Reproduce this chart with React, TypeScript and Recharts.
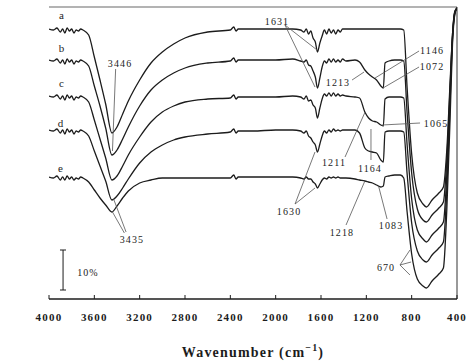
import React from 'react';
import { LineChart, Line, XAxis, YAxis, ReferenceLine, ReferenceDot } from 'recharts';

// Wavenumber grid (cm^-1)
const wavenumbers = [4000,3960,3930,3900,3880,3860,3840,3820,3800,3780,3760,3740,3720,3700,3650,3600,3550,3500,3445,3400,3350,3300,3200,3100,3000,2900,2800,2600,2400,2370,2350,2330,2200,2000,1850,1780,1750,1730,1710,1690,1670,1650,1631,1610,1590,1570,1550,1530,1510,1490,1470,1450,1430,1410,1380,1300,1260,1213,1180,1146,1110,1072,1050,1035,1000,950,900,870,840,800,750,700,670,620,560,520,490,460,440,420,400];

// Transmittance (arbitrary offset units) for the five spectra
const curveA = [270,269,271,267,270,266,271,268,270,266,269,268,270,269,264,242,219,195,166,172,185,198,219,236,247,255,261,267,269,272,268,270,270,270,270,269,267,270,265,268,261,257,247,256,263,269,265,270,266,269,265,269,267,270,270,270,270,270,270,270,270,270,270,270,270,270,270,269,211,145,106,95,92,99,106,112,149,219,264,287,291];
const curveB = [239,238,240,236,239,235,240,237,239,235,238,237,239,238,233,213,193,171,144,149,160,172,193,209,219,226,231,236,238,241,237,239,239,239,240,238,237,239,234,233,228,222,211,221,232,238,236,240,237,240,237,239,237,240,238,239,237,229,225,222,219,213,211,236,238,239,239,238,186,126,90,79,77,84,91,97,139,214,264,287,291];
const curveC = [203,202,204,200,203,199,204,201,203,199,202,201,203,202,197,179,160,141,119,123,133,144,162,177,187,193,197,200,201,204,200,202,202,202,203,202,200,203,198,199,194,191,181,191,200,205,203,206,203,206,203,205,203,204,203,202,201,187,181,178,177,174,173,200,202,202,202,201,154,100,69,60,57,64,71,77,124,209,261,286,291];
const curveD = [169,168,170,166,169,165,170,167,169,165,168,167,169,168,163,148,133,118,99,103,111,120,136,147,154,159,162,165,167,170,166,168,168,169,169,168,166,168,163,161,157,154,147,155,163,168,166,169,167,170,168,169,168,169,169,169,166,151,148,147,146,139,137,167,168,168,168,167,125,76,48,39,37,44,51,57,109,199,259,285,291];
const curveE = [122,121,123,119,122,119,123,120,122,119,121,120,122,121,117,109,101,94,87,93,101,108,116,119,121,121,121,121,121,124,120,122,122,122,122,121,120,122,120,120,117,115,111,115,119,121,120,122,121,122,121,122,121,121,121,120,119,118,117,116,114,112,113,122,123,124,124,121,87,45,20,13,11,18,25,31,89,184,254,284,291];

const seriesKeys = ['a', 'b', 'c', 'd', 'e'];
const seriesValues = [curveA, curveB, curveC, curveD, curveE];
const xTicks = [4000, 3600, 3200, 2800, 2400, 2000, 1600, 1200, 800, 400];

// Annotations in data units: [text, wavenumber, transmittance]
const curveLabels: [string, number, number][] = [
  ['a', 3885, 284], ['b', 3885, 251], ['c', 3885, 216], ['d', 3894, 176], ['e', 3894, 131],
];
const peakLabels: [string, number, number][] = [
  ['3446', 3373, 236], ['3435', 3268, 60], ['1631', 1988, 278], ['1213', 1450, 217],
  ['1146', 620, 249], ['1072', 620, 233], ['1065', 585, 176], ['1211', 1485, 137],
  ['1164', 1168, 131], ['1630', 1882, 88], ['1218', 1415, 67], ['1083', 982, 74],
  ['670', 1026, 32], ['10%', 3656, 27],
];
// leader lines: [w1, t1, w2, t2]
const leaders: [number, number, number, number][] = [
  [3412, 230, 3440, 148],
  [3335, 66, 3445, 88], [3320, 67, 3430, 100],
  [1918, 274, 1635, 249], [1918, 274, 1653, 212],
  [1326, 219, 1220, 227],
  [735, 248, 1123, 221], [735, 232, 1053, 211],
  [726, 176, 1062, 174],
  [1388, 142, 1211, 187],
  [1159, 139, 1159, 170],
  [1829, 95, 1653, 147], [1829, 95, 1653, 111],
  [1379, 74, 1213, 118],
  [1017, 80, 1090, 112],
  [903, 34, 815, 49], [903, 34, 805, 37], [903, 34, 815, 24],
];
// 10% scale bar
const scaleBar: [number, number, number, number][] = [
  [3876, 49, 3876, 9], [3903, 49, 3850, 49], [3903, 9, 3850, 9],
];

const data = wavenumbers.map((w, i) => {
  const row: Record<string, number> = { w };
  seriesKeys.forEach((k, j) => { row[k] = seriesValues[j][i]; });
  return row;
});

const FONT = "'Liberation Serif', 'Times New Roman', serif";
const INK = '#1c1c1c';
const W = 468;
const H = 364;
const MARGIN = { top: 7, right: 11, left: 49, bottom: 35 };
const X_AXIS_H = 30;
const PLOT_BOTTOM = H - MARGIN.bottom - X_AXIS_H;

const textShape = (text: string, size: number) => (props: any) => (
  <text x={props.cx} y={props.cy} dy="0.35em" textAnchor="middle" fontFamily={FONT}
    fontSize={size} letterSpacing={1.1} fill={INK}>{text}</text>
);

const XTick = (p: any) => (
  <g>
    <line x1={p.x} x2={p.x} y1={PLOT_BOTTOM} y2={PLOT_BOTTOM - 4} stroke={INK} strokeWidth={1} />
    <text x={p.x} y={p.y} dy="0.71em" textAnchor="middle" fontFamily={FONT} fontSize={11}
      fontWeight="bold" letterSpacing={1.2} fill={INK}>{p.payload.value}</text>
  </g>
);

const XTitle = (props: any) => {
  const vb = props.viewBox;
  return (
    <text x={vb.x + vb.width / 2} y={vb.y + 58} textAnchor="middle" fontFamily={FONT}
      fontSize={14} fontWeight="bold" letterSpacing={1.2} fill={INK}>
      Wavenumber (cm<tspan dy={-6} fontSize={10}>−1</tspan><tspan dy={6}>)</tspan>
    </text>
  );
};

const YTitle = (props: any) => {
  const vb = props.viewBox;
  const x = vb.x - 28;
  const y = vb.y + vb.height / 2;
  return (
    <text x={x} y={y} textAnchor="middle" transform={`rotate(-90 ${x} ${y})`} fontFamily={FONT}
      fontSize={14} fontWeight="bold" letterSpacing={1.2} fill={INK}>Transmittance</text>
  );
};

export default function App() {
  return (
    <div style={{ position: 'absolute', left: 0, top: 0, background: '#fff' }}>
      <LineChart width={W} height={H} data={data} margin={MARGIN}>
        <XAxis dataKey="w" type="number" domain={[400, 4000]} reversed ticks={xTicks}
          allowDataOverflow height={X_AXIS_H} tickSize={0} tickMargin={14} tickLine={false}
          tick={<XTick />} interval={0} axisLine={{ stroke: INK, strokeWidth: 1.5 }}
          label={{ content: XTitle }} />
        <YAxis type="number" domain={[0, 292]} allowDataOverflow width={0} tick={false}
          tickLine={false} axisLine={{ stroke: INK, strokeWidth: 1.5 }} label={{ content: YTitle }} />
        <ReferenceLine y={292} stroke="#9a9a9a" strokeWidth={1.5} ifOverflow="visible" />
        <ReferenceLine x={400} stroke="#555" strokeWidth={1.2} ifOverflow="visible" />
        {seriesKeys.map((k) => (
          <Line key={k} dataKey={k} type="monotone" dot={false} stroke={INK} strokeWidth={1.3}
            isAnimationActive={false} />
        ))}
        {leaders.map((l, i) => (
          <ReferenceLine key={'l' + i} segment={[{ x: l[0], y: l[1] }, { x: l[2], y: l[3] }]}
            stroke="#555" strokeWidth={0.8} ifOverflow="visible" />
        ))}
        {scaleBar.map((l, i) => (
          <ReferenceLine key={'s' + i} segment={[{ x: l[0], y: l[1] }, { x: l[2], y: l[3] }]}
            stroke={INK} strokeWidth={1} ifOverflow="visible" />
        ))}
        {curveLabels.map((c) => (
          <ReferenceDot key={'c' + c[0]} x={c[1]} y={c[2]} r={1} ifOverflow="visible"
            shape={textShape(c[0], 11)} />
        ))}
        {peakLabels.map((c) => (
          <ReferenceDot key={'p' + c[0]} x={c[1]} y={c[2]} r={1} ifOverflow="visible"
            shape={textShape(c[0], 10)} />
        ))}
      </LineChart>
    </div>
  );
}
